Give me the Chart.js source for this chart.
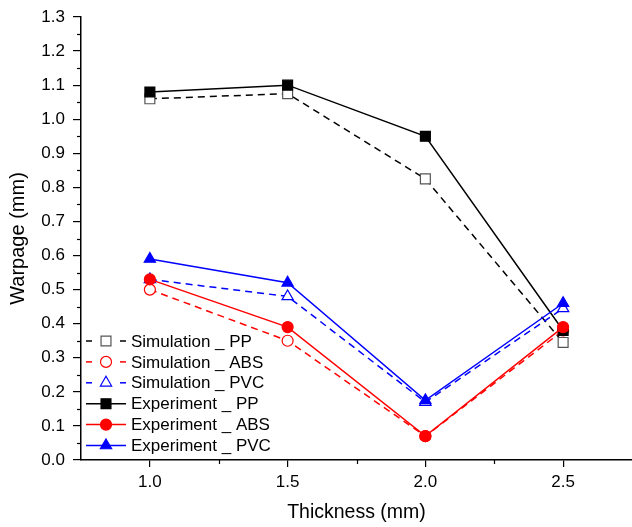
<!DOCTYPE html>
<html>
<head>
<meta charset="utf-8">
<script src="https://cdn.jsdelivr.net/npm/chart.js@4/dist/chart.umd.min.js"></script>
<style>
  html, body { margin: 0; padding: 0; background: #fff; }
  #wrap { width: 632px; height: 527px; }
</style>
</head>
<body>
<div id="wrap"><canvas id="grafico"></canvas></div>
<script>
// data
const thickness = [1.0, 1.5, 2.0, 2.5];
const simPP  = [1.06, 1.075, 0.825, 0.345];
const simABS = [0.50, 0.35, 0.07, 0.38];
const simPVC = [0.53, 0.48, 0.17, 0.445];
const expPP  = [1.08, 1.10, 0.95, 0.38];
const expABS = [0.53, 0.39, 0.07, 0.39];
const expPVC = [0.59, 0.52, 0.175, 0.46];
const xTicks = [1.0, 1.5, 2.0, 2.5];

const FONT = '"Liberation Sans", Arial, sans-serif';
const pts = (ys) => thickness.map((x, i) => ({ x: x, y: ys[i] }));

function serie(label, ys, color, dashed, style, order) {
    const hollow = dashed;
    return {
        label: label,
        data: pts(ys),
        borderColor: color,
        borderWidth: 1.5,
        borderDash: dashed ? [7, 5] : [],
        pointStyle: style,
        pointRadius: style === 'rect' ? 7 : (style === 'triangle' ? 6.5 : 5.5),
        pointBorderColor: (hollow && color === '#000') ? '#555' : color,
        pointBackgroundColor: hollow ? '#fff' : color,
        pointBorderWidth: 1.2,
        fill: false,
        tension: 0,
        order: order
    };
}

// minor ticks + legend drawn inside the plot
const extras = {
    id: 'extras',
    afterDraw(chart) {
        const c = chart.ctx;
        const xs = chart.scales.x, ys = chart.scales.y;
        const area = chart.chartArea;
        c.save();
        c.strokeStyle = '#000';
        c.lineWidth = 1.2;
        for (let v = 0.05; v < 1.3; v += 0.1) {
            const y = Math.round(ys.getPixelForValue(v)) + 0.5;
            c.beginPath(); c.moveTo(area.left, y); c.lineTo(area.left - 4, y); c.stroke();
        }
        for (const v of [1.25, 1.75, 2.25]) {
            const x = Math.round(xs.getPixelForValue(v)) + 0.5;
            c.beginPath(); c.moveTo(x, area.bottom); c.lineTo(x, area.bottom + 4); c.stroke();
        }
        // legend
        const x0 = 86, x1 = 126, xm = 106;
        let y = 341;
        c.font = '17px ' + FONT;
        c.textBaseline = 'middle';
        c.textAlign = 'left';
        chart.data.datasets.forEach((ds) => {
            c.strokeStyle = ds.borderColor;
            c.lineWidth = 1.5;
            if (ds.borderDash.length) {
                c.beginPath(); c.moveTo(x0, y); c.lineTo(x0 + 6, y); c.stroke();
                c.beginPath(); c.moveTo(x1 - 6, y); c.lineTo(x1, y); c.stroke();
            } else {
                c.beginPath(); c.moveTo(x0, y); c.lineTo(x1, y); c.stroke();
            }
            c.strokeStyle = ds.pointBorderColor;
            c.fillStyle = ds.pointBackgroundColor;
            c.lineWidth = ds.pointBorderWidth;
            Chart.helpers.drawPoint(c, { pointStyle: ds.pointStyle, radius: ds.pointRadius, borderWidth: ds.pointBorderWidth, rotation: 0 }, xm, y);
            c.fillStyle = '#000';
            c.fillText(ds.label, 131, y + 1);
            y += 20.9;
        });
        c.restore();
    }
};

const ctx = document.getElementById('grafico').getContext('2d');
const grafico = new Chart(ctx, {
    type: 'line',
    data: {
        datasets: [
            serie('Simulation _ PP', simPP, '#000', true, 'rect', 6),
            serie('Simulation _ ABS', simABS, '#ff0000', true, 'circle', 5),
            serie('Simulation _ PVC', simPVC, '#0000ff', true, 'triangle', 4),
            serie('Experiment _ PP', expPP, '#000', false, 'rect', 3),
            serie('Experiment _ ABS', expABS, '#ff0000', false, 'circle', 2),
            serie('Experiment _ PVC', expPVC, '#0000ff', false, 'triangle', 1)
        ]
    },
    options: {
        responsive: true,
        maintainAspectRatio: false,
        animation: false,
        layout: { autoPadding: false, padding: { top: 17, right: 0, left: 0, bottom: 0 } },
        plugins: { legend: { display: false }, tooltip: { enabled: false } },
        scales: {
            x: {
                type: 'linear',
                min: 0.75,
                max: 2.75,
                afterBuildTicks: (s) => { s.ticks = xTicks.map(v => ({ value: v })); },
                afterFit: (s) => { s.height = 67; s.paddingRight = 0; s.paddingLeft = 0; },
                ticks: {
                    color: '#000',
                    padding: 5,
                    font: { family: FONT, size: 17 },
                    callback: (v) => Number(v).toFixed(1)
                },
                grid: { drawOnChartArea: false, drawTicks: true, tickLength: 7, color: '#000', lineWidth: 1.2 },
                border: { color: '#000', width: 1.5 },
                title: {
                    display: true,
                    text: 'Thickness (mm)',
                    color: '#000',
                    font: { family: FONT, size: 19.5 },
                    padding: { top: 0, bottom: 3 }
                }
            },
            y: {
                min: 0,
                max: 1.3,
                afterFit: (s) => { s.width = 81; s.paddingTop = 0; s.paddingBottom = 0; },
                ticks: {
                    stepSize: 0.1,
                    color: '#000',
                    padding: 8,
                    font: { family: FONT, size: 17 },
                    callback: (v) => Number(v).toFixed(1)
                },
                grid: { drawOnChartArea: false, drawTicks: true, tickLength: 8, color: '#000', lineWidth: 1.2 },
                border: { color: '#000', width: 1.5 },
                title: {
                    display: true,
                    text: 'Warpage (mm)',
                    color: '#000',
                    font: { family: FONT, size: 20 },
                    padding: { top: 6, bottom: 0 }
                }
            }
        }
    },
    plugins: [extras]
});
</script>
</body>
</html>
